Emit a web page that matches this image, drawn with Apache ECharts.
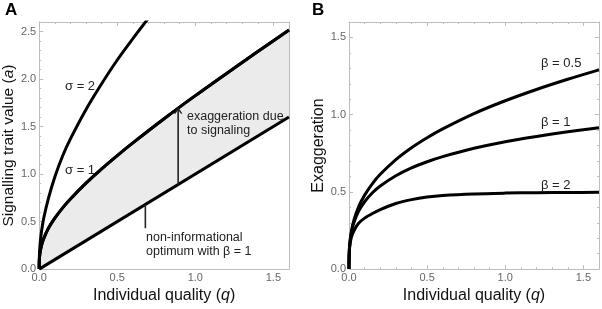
<!DOCTYPE html>
<html>
<head>
<meta charset="utf-8">
<script src="https://cdn.jsdelivr.net/npm/echarts@6/dist/echarts.min.js"></script>
<style>
html,body{margin:0;padding:0;background:#fff;}
#c{width:602px;height:309px;}
</style>
</head>
<body>
<div id="c"></div>
<script>
// ---- Data ----
// Panel A
const optimumQ = [0, 1.6];
const optimumTrait = [0, 1.6];
const sigma1Q = [0, 0.001, 0.005, 0.015, 0.03, 0.06, 0.1, 0.15, 0.2, 0.3, 0.4, 0.5, 0.6, 0.8, 1.0, 1.2, 1.4, 1.6];
const sigma1Trait = [0, 0.093, 0.167, 0.25, 0.326, 0.432, 0.536, 0.644, 0.738, 0.904, 1.055, 1.195, 1.328, 1.582, 1.825, 2.059, 2.289, 2.515];
const sigma2Q = [0, 0.001, 0.005, 0.015, 0.03, 0.06, 0.1, 0.15, 0.2, 0.3, 0.4, 0.5, 0.6, 0.7, 0.8];
const sigma2Trait = [0, 0.124, 0.247, 0.399, 0.543, 0.75, 0.97, 1.19, 1.37, 1.68, 1.95, 2.2, 2.425, 2.64, 2.84];
// Panel B
const betaQ = [0, 0.001, 0.005, 0.015, 0.03, 0.06, 0.1, 0.15, 0.2, 0.3, 0.4, 0.5, 0.6, 0.8, 1.0, 1.2, 1.4, 1.6];
const beta05 = [0, 0.093, 0.165, 0.244, 0.312, 0.40, 0.479, 0.554, 0.614, 0.709, 0.786, 0.851, 0.908, 1.007, 1.09, 1.163, 1.229, 1.29];
const beta1 = [0, 0.092, 0.162, 0.235, 0.296, 0.372, 0.436, 0.494, 0.538, 0.604, 0.655, 0.695, 0.728, 0.782, 0.825, 0.859, 0.889, 0.915];
const beta2 = [0, 0.088, 0.15, 0.205, 0.245, 0.295, 0.33, 0.36, 0.385, 0.425, 0.45, 0.467, 0.477, 0.487, 0.492, 0.495, 0.496, 0.497];
// Annotation anchors (data coordinates)
const arrowQ = 0.89, arrowFrom = 0.89, arrowTo = 1.70;
const pointerQ = 0.68, pointerFrom = 0.68, pointerTo = 0.43;

const zip = (xs, ys) => xs.map((x, i) => [x, ys[i]]);

const FRAME = '#bdbdbd';
const TICKLAB = '#666';
const FONT = 'Liberation Sans, Arial, sans-serif';
const SMOOTH = 0.3;

function axisBase(extra) {
  return Object.assign({
    type: 'value',
    axisLine: {show: true, onZero: false, lineStyle: {color: FRAME, width: 1}},
    axisTick: {show: true, inside: true, length: 4, lineStyle: {color: FRAME}},
    minorTick: {show: true, splitNumber: 5, length: 2, lineStyle: {color: FRAME}},
    splitLine: {show: false},
    axisLabel: {show: false}
  }, extra);
}
const tickLabel = {show: true, color: TICKLAB, fontSize: 11, fontFamily: FONT, margin: 3,
  showMaxLabel: false, formatter: v => v.toFixed(1)};
const nameStyle = (fs) => ({color: '#111', fontSize: fs, fontFamily: FONT,
  rich: {i: {fontStyle: 'italic', fontSize: fs, fontFamily: FONT, color: '#111'}}});

const chart = echarts.init(document.getElementById('c'), null, {renderer: 'canvas'});

const lineStyle = {color: '#000', width: 3};
const option = {
  animation: false,
  backgroundColor: '#fff',
  grid: [
    {left: 37, right: 313, top: 22, bottom: 34},
    {left: 349, right: 3, top: 22, bottom: 35}
  ],
  xAxis: [
    axisBase({gridIndex: 0, min: 0, max: 1.6, interval: 0.5, position: 'bottom', axisLabel: tickLabel,
      name: 'Individual quality ({i|q})', nameLocation: 'middle', nameGap: 11, nameTextStyle: nameStyle(16)}),
    axisBase({gridIndex: 0, min: 0, max: 1.6, interval: 0.5, position: 'top'}),
    axisBase({gridIndex: 1, min: 0, max: 1.6, interval: 0.5, position: 'bottom', axisLabel: tickLabel,
      name: 'Individual quality ({i|q})', nameLocation: 'middle', nameGap: 11, nameTextStyle: nameStyle(16)}),
    axisBase({gridIndex: 1, min: 0, max: 1.6, interval: 0.5, position: 'top'})
  ],
  yAxis: [
    axisBase({gridIndex: 0, min: 0, max: 2.6, interval: 0.5, position: 'left', axisLabel: tickLabel,
      name: 'Signalling trait value ({i|a})', nameLocation: 'middle', nameGap: 21, nameTextStyle: nameStyle(15.5)}),
    axisBase({gridIndex: 0, min: 0, max: 2.6, interval: 0.5, position: 'right'}),
    axisBase({gridIndex: 1, min: 0, max: 1.6, interval: 0.5, position: 'left', axisLabel: tickLabel,
      name: 'Exaggeration', nameLocation: 'middle', nameGap: 21, nameTextStyle: nameStyle(16)}),
    axisBase({gridIndex: 1, min: 0, max: 1.6, interval: 0.5, position: 'right'})
  ],
  series: [
    {type: 'line', name: 'sigma1', xAxisIndex: 0, yAxisIndex: 0, data: zip(sigma1Q, sigma1Trait),
      smooth: SMOOTH, showSymbol: false, lineStyle: lineStyle,
      areaStyle: {color: '#ebebeb', opacity: 1}, z: 2},
    {type: 'line', name: 'optimum', xAxisIndex: 0, yAxisIndex: 0, data: zip(optimumQ, optimumTrait),
      showSymbol: false, lineStyle: lineStyle, areaStyle: {color: '#fff', opacity: 1}, z: 3},
    {type: 'line', name: 'sigma1line', xAxisIndex: 0, yAxisIndex: 0, data: zip(sigma1Q, sigma1Trait),
      smooth: SMOOTH, showSymbol: false, lineStyle: lineStyle, z: 4},
    {type: 'line', name: 'sigma2', xAxisIndex: 0, yAxisIndex: 0, data: zip(sigma2Q, sigma2Trait),
      smooth: SMOOTH, showSymbol: false, lineStyle: lineStyle, z: 4, clip: true},
    {type: 'line', name: 'b05', xAxisIndex: 2, yAxisIndex: 2, data: zip(betaQ, beta05),
      smooth: SMOOTH, showSymbol: false, lineStyle: lineStyle},
    {type: 'line', name: 'b1', xAxisIndex: 2, yAxisIndex: 2, data: zip(betaQ, beta1),
      smooth: SMOOTH, showSymbol: false, lineStyle: lineStyle},
    {type: 'line', name: 'b2', xAxisIndex: 2, yAxisIndex: 2, data: zip(betaQ, beta2),
      smooth: SMOOTH, showSymbol: false, lineStyle: lineStyle}
  ]
};
chart.setOption(option);

// annotations
const P = (q, a) => chart.convertToPixel({xAxisIndex: 0, yAxisIndex: 0}, [q, a]);
const a0 = P(arrowQ, arrowFrom), a1 = P(arrowQ, arrowTo);
const p0 = P(pointerQ, pointerFrom), p1 = P(pointerQ, pointerTo);
const txt = (x, y, s, size, extra) => Object.assign({type: 'text', left: x, top: y, z: 20,
  style: {text: s, fill: '#222', font: (size || 12) + 'px ' + FONT}}, extra || {});
chart.setOption({
  graphic: [
    {type: 'line', z: 20, shape: {x1: a0[0], y1: a0[1], x2: a1[0], y2: a1[1] + 1}, style: {stroke: '#222', lineWidth: 1.6}},
    {type: 'polyline', z: 20, shape: {points: [[a1[0] - 3.5, a1[1] + 6], [a1[0], a1[1] + 1], [a1[0] + 3.5, a1[1] + 6]]}, style: {stroke: '#222', lineWidth: 1.4, fill: null}},
    {type: 'line', z: 20, shape: {x1: p0[0], y1: p0[1], x2: p1[0], y2: p1[1]}, style: {stroke: '#222', lineWidth: 1.6}},
    txt(187, 110, 'exaggeration due', 12.5),
    txt(187, 124, 'to signaling', 12.5),
    txt(146, 231, 'non-informational', 12.5),
    txt(146, 245, 'optimum with β = 1', 12.5),
    txt(65, 80, 'σ = 2', 13),
    txt(65, 164, 'σ = 1', 13),
    txt(541, 57, 'β = 0.5', 13),
    txt(541, 116, 'β = 1', 13),
    txt(541, 179, 'β = 2', 13),
    txt(5, 2, 'A', 17, {style: {text: 'A', fill: '#000', font: 'bold 17px ' + FONT}}),
    txt(312, 2, 'B', 17, {style: {text: 'B', fill: '#000', font: 'bold 17px ' + FONT}})
  ]
});
</script>
</body>
</html>
